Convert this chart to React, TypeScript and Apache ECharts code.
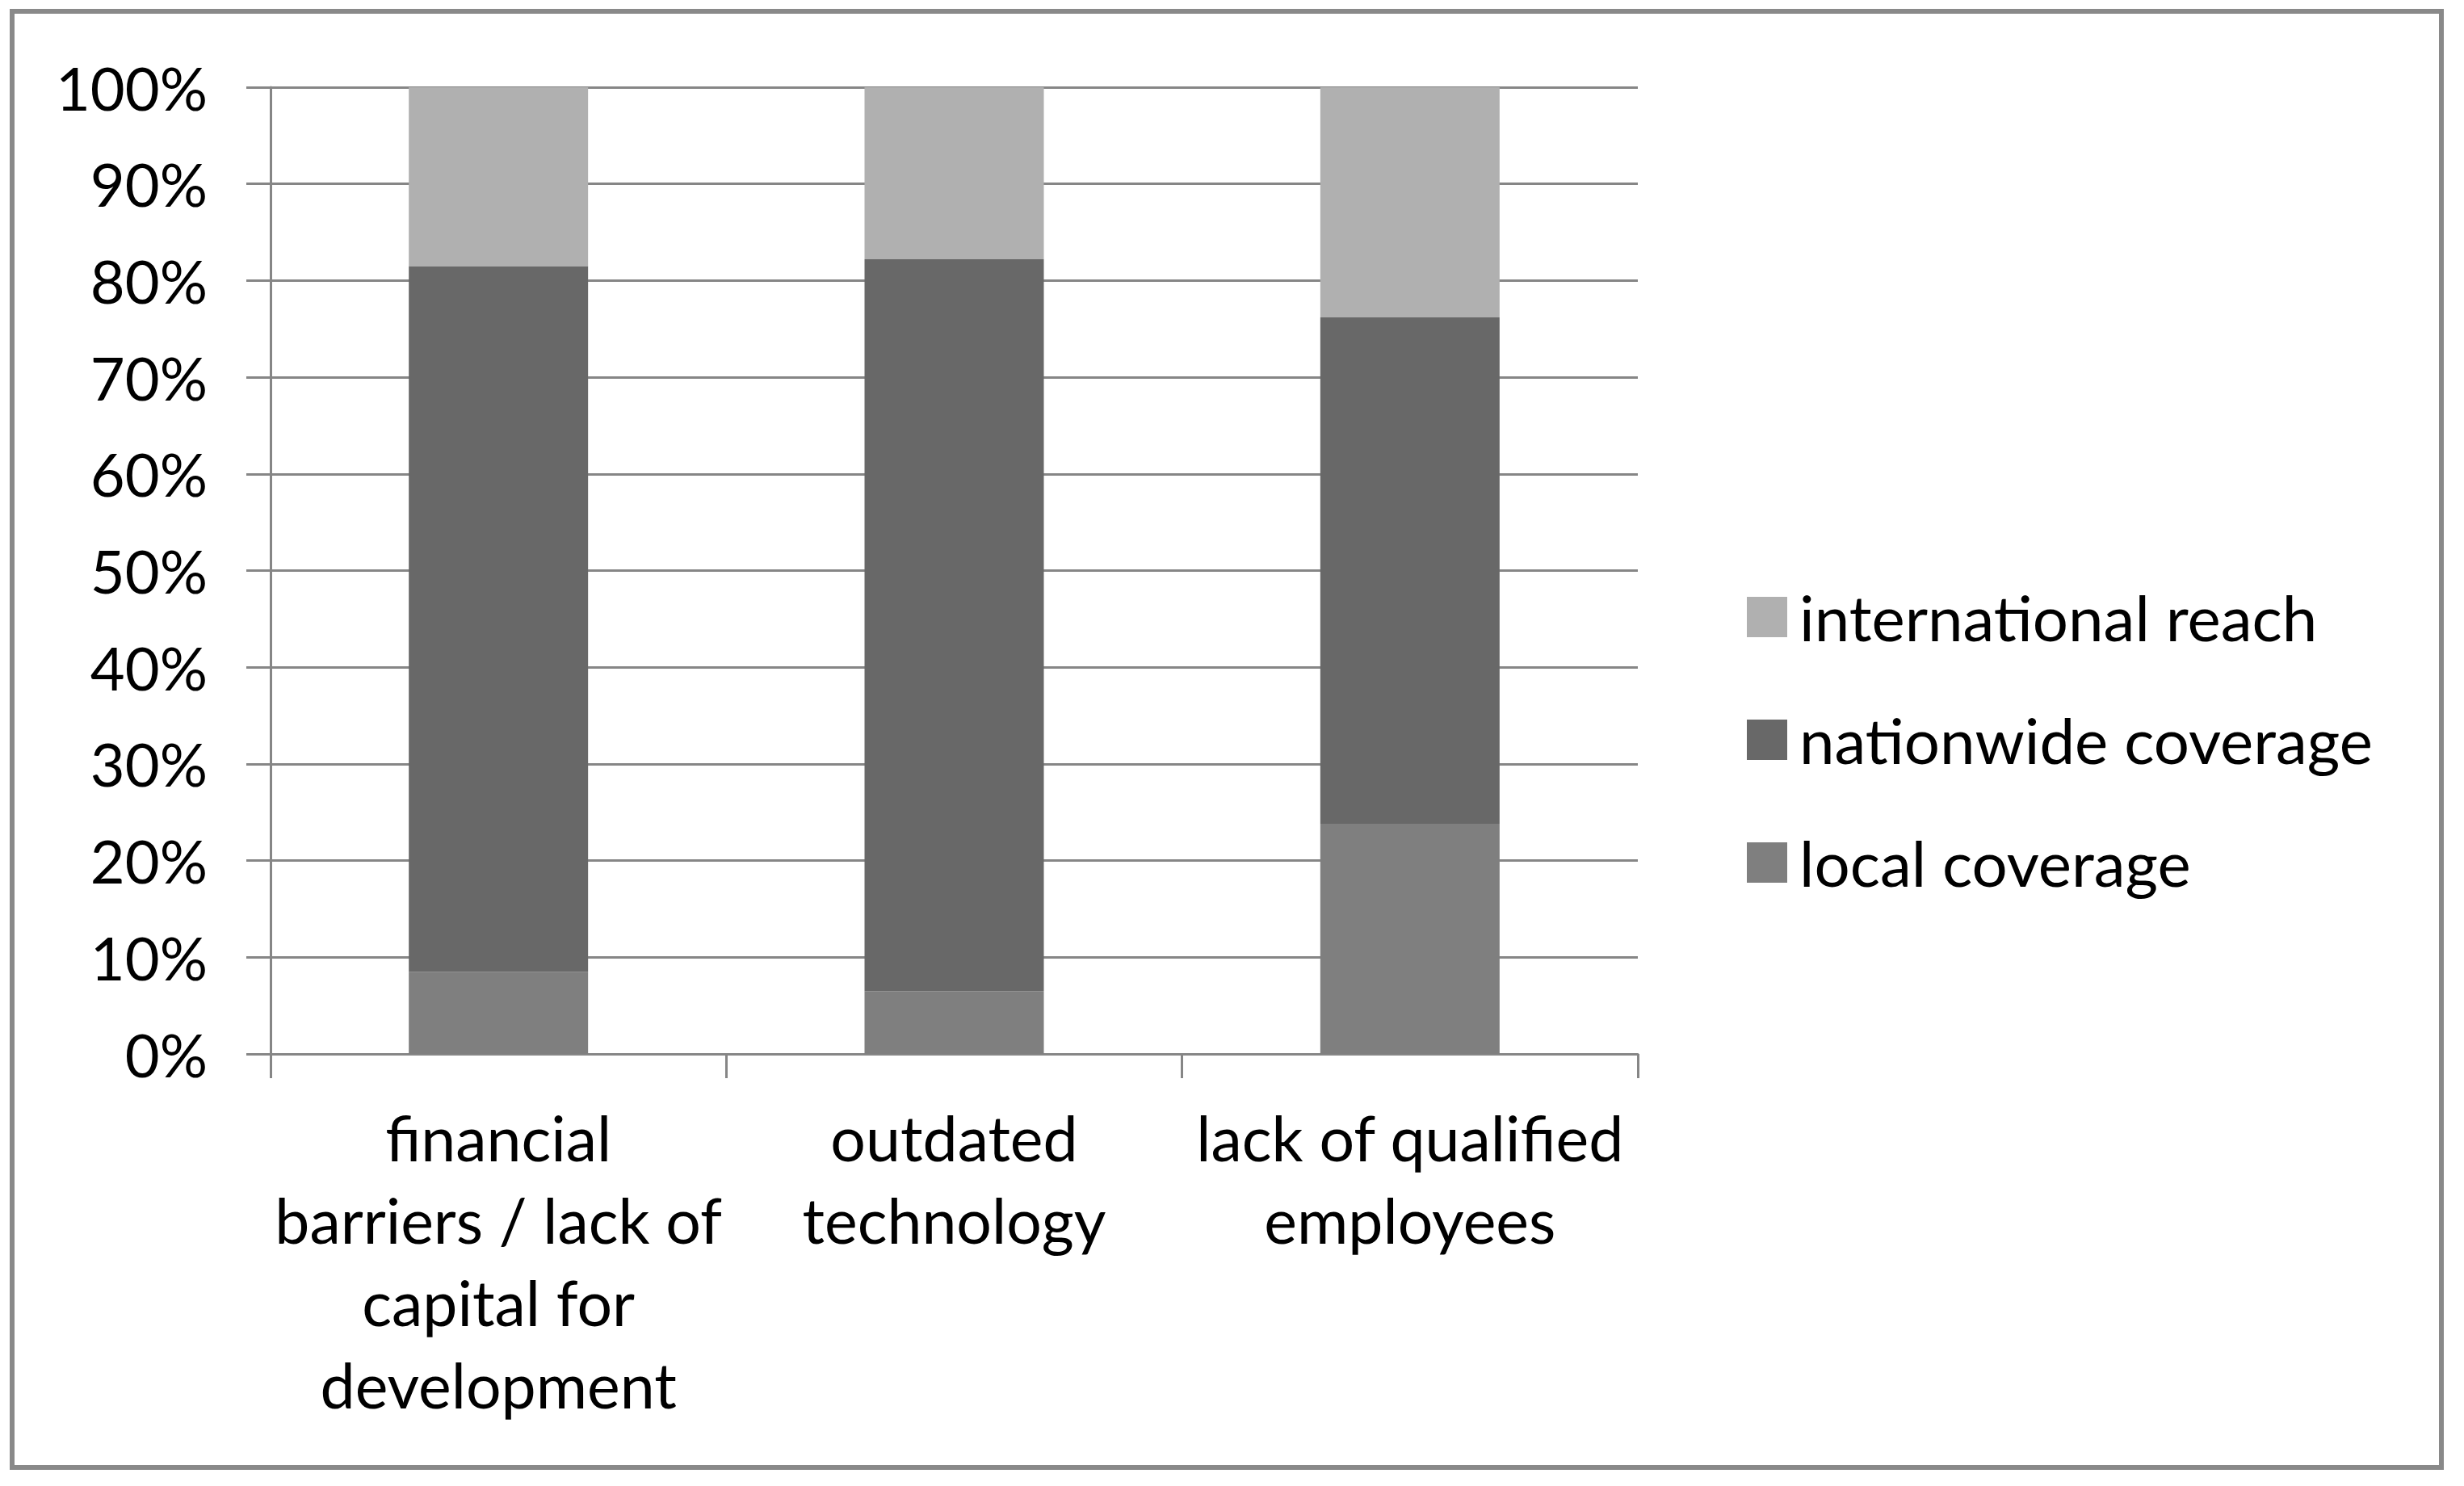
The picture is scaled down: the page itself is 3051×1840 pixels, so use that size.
import React, { useEffect, useRef } from "react";
import * as echarts from "echarts";

const categories = [
  "financial\nbarriers / lack of\ncapital for\ndevelopment",
  "outdated\ntechnology",
  "lack of qualified\nemployees",
];
const localCoverage = [8.5, 6.5, 23.8];
const nationwideCoverage = [73.0, 75.7, 52.4];
const internationalReach = [18.5, 17.8, 23.8];
const seriesNames = ["local coverage", "nationwide coverage", "international reach"];
const legendOrder = ["international reach", "nationwide coverage", "local coverage"];

const FONT = "Lato";

export default function App() {
  const ref = useRef<HTMLDivElement>(null);
  useEffect(() => {
    document.body.style.margin = "0";
    const chart = echarts.init(ref.current!, null, { renderer: "svg" });
    const barStyle = (color: string) => ({ color });
    chart.setOption({
      animation: false,
      backgroundColor: "#ffffff",
      textStyle: { fontFamily: FONT },
      graphic: [
        {
          type: "rect",
          shape: { x: 15, y: 14, width: 3008, height: 1803 },
          style: { fill: "none", stroke: "#898989", lineWidth: 6 },
          z: 100,
        },
      ],
      grid: { left: 335, right: 1023, top: 108, bottom: 535, containLabel: false },
      legend: {
        orient: "vertical",
        left: 2158,
        top: 719,
        itemWidth: 50,
        itemHeight: 50,
        itemGap: 72,
        data: legendOrder,
        icon: "rect",
        textStyle: { fontFamily: FONT, fontSize: 78, color: "#000", lineHeight: 80, padding: [0, 0, 0, 10] },
      },
      xAxis: {
        type: "category",
        data: categories,
        axisLine: { show: true, lineStyle: { color: "#868686", width: 3 } },
        axisTick: { show: true, length: 30, lineStyle: { color: "#868686", width: 3 } },
        axisLabel: {
          margin: 52,
          fontFamily: FONT,
          fontSize: 77,
          lineHeight: 102,
          color: "#000",
          interval: 0,
          align: "center",
        },
      },
      yAxis: {
        type: "value",
        min: 0,
        max: 100,
        interval: 10,
        axisLine: { show: true, lineStyle: { color: "#868686", width: 3 } },
        axisTick: { show: true, length: 30, lineStyle: { color: "#868686", width: 3 } },
        splitLine: { show: true, lineStyle: { color: "#868686", width: 3 } },
        axisLabel: {
          formatter: "{value}%",
          margin: 78,
          fontFamily: FONT,
          fontSize: 74,
          color: "#000",
        },
      },
      series: [
        {
          name: seriesNames[0],
          type: "bar",
          stack: "total",
          data: localCoverage,
          barWidth: 222,
          itemStyle: barStyle("#7f7f7f"),
        },
        {
          name: seriesNames[1],
          type: "bar",
          stack: "total",
          data: nationwideCoverage,
          barWidth: 222,
          itemStyle: barStyle("#686868"),
        },
        {
          name: seriesNames[2],
          type: "bar",
          stack: "total",
          data: internationalReach,
          barWidth: 222,
          itemStyle: barStyle("#b0b0b0"),
        },
      ],
    });
    return () => chart.dispose();
  }, []);
  return <div ref={ref} style={{ width: 3051, height: 1840 }} />;
}
